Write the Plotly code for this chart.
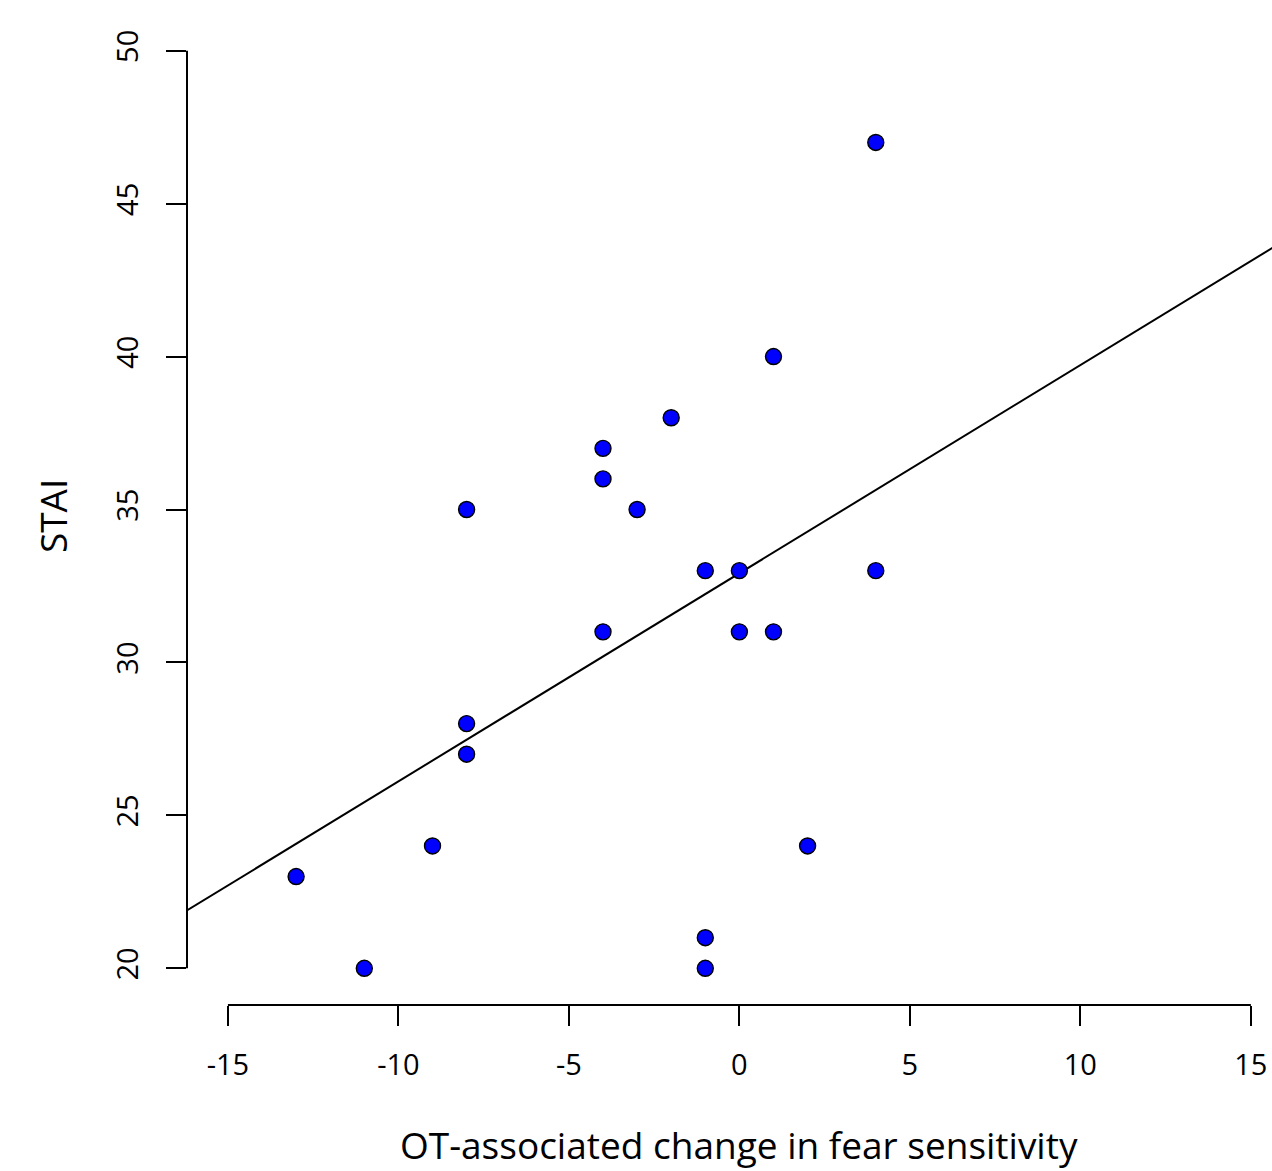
import numpy as np
import plotly.graph_objects as go

# Data
fear_change = [-13, -11, -9, -8, -8, -8, -4, -4, -4, -3, -2, -1, -1, -1, 0, 0, 1, 1, 2, 4, 4]
stai = [23, 20, 24, 35, 28, 27, 37, 36, 31, 35, 38, 33, 21, 20, 33, 31, 40, 31, 24, 47, 33]
x_ticks = [-15, -10, -5, 0, 5, 10, 15]
y_ticks = [20, 25, 30, 35, 40, 45, 50]

slope, intercept = np.polyfit(fear_change, stai, 1)
line_x = np.array([-17.0, 17.0])
line_y = intercept + slope * line_x

FONT = "Open Sans"

fig = go.Figure()
fig.add_trace(go.Scatter(x=line_x, y=line_y, mode="lines",
                         line=dict(color="black", width=2), hoverinfo="skip",
                         showlegend=False))
fig.add_trace(go.Scatter(x=fear_change, y=stai, mode="markers",
                         marker=dict(size=16, color="#0000FF",
                                     line=dict(color="black", width=1.4)),
                         showlegend=False, cliponaxis=False))

fig.update_layout(
    width=1272, height=1171,
    margin=dict(l=187, r=0, t=14, b=166),
    paper_bgcolor="white", plot_bgcolor="white",
    font=dict(family=FONT, color="black"),
    xaxis=dict(range=[-16.2, 15.62], tickvals=x_ticks, ticktext=[str(v) for v in x_ticks],
               ticks="outside", ticklen=20, tickwidth=2, tickcolor="black",
               showgrid=False, zeroline=False, showline=False,
               tickfont=dict(size=29, family=FONT), ticklabelstandoff=14),
    yaxis=dict(range=[18.8, 51.2], tickvals=y_ticks, ticktext=[str(v) for v in y_ticks],
               ticks="outside", ticklen=20, tickwidth=2, tickcolor="black",
               showgrid=False, zeroline=False, showline=False, tickangle=-90,
               tickfont=dict(size=29, family=FONT), ticklabelstandoff=16),
    shapes=[
        dict(type="line", xref="x", yref="paper", x0=x_ticks[0], x1=x_ticks[-1], y0=0, y1=0,
             line=dict(color="black", width=2)),
        dict(type="line", xref="paper", yref="y", x0=0, x1=0, y0=y_ticks[0], y1=y_ticks[-1],
             line=dict(color="black", width=2)),
    ],
    annotations=[
        dict(text="OT-associated change in fear sensitivity", xref="x", yref="paper",
             x=0, y=-0.1403, xanchor="center", yanchor="middle", showarrow=False,
             font=dict(size=37, family=FONT)),
        dict(text="STAI", xref="paper", yref="paper", x=-0.1244, y=0.4934,
             xanchor="center", yanchor="middle", textangle=-90, showarrow=False,
             font=dict(size=37, family=FONT)),
    ],
)

fig.write_html("out.html", config={"displayModeBar": False},
               post_script="document.body.style.margin='0';document.documentElement.style.margin='0';")
